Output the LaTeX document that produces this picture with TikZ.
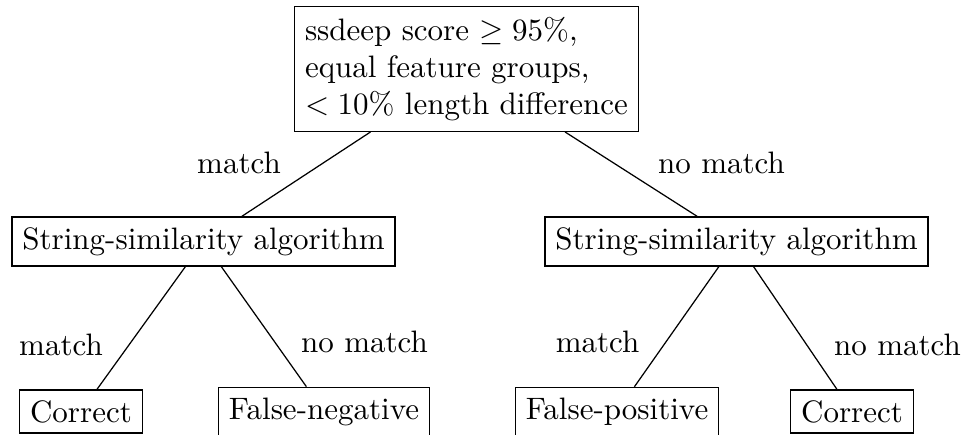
\documentclass[tikz,border=0pt]{standalone}
\begin{document}
\begin{tikzpicture}[x=0.32258pt,y=-0.32258pt,
  box/.style={draw},
  lbl/.style={inner sep=0pt,anchor=base}]
\useasboundingbox (0,0) rectangle (965,434);
\clip (0,0) rectangle (965,434);
\node[box,align=left] (root) at (466.5,69) {ssdeep score $\geq 95\%$,\\equal feature groups,\\$<10\%$ length difference};
\node[box] (L) at (203.5,241.5) {String-similarity algorithm};
\node[box] (R) at (736.5,241.5) {String-similarity algorithm};
\node[box] (LL) at (81,411.5) {Correct};
\node[box] (LR) at (324,411.5) {False-negative};
\node[box] (RL) at (617,411.5) {False-positive};
\node[box] (RR) at (852,411.5) {Correct};
\draw (root) -- (L);
\draw (root) -- (R);
\draw (L) -- (LL);
\draw (L) -- (LR);
\draw (R) -- (RL);
\draw (R) -- (RR);
\node[lbl] (m1) at (239,173) {match};
\node[lbl] (n1) at (721.5,173) {no match};
\node[lbl] (m2) at (61,355) {match};
\node[lbl] (n2) at (364.5,352) {no match};
\node[lbl] (m3) at (597.5,352) {match};
\node[lbl] (n3) at (897.5,355) {no match};
\end{tikzpicture}
\end{document}
